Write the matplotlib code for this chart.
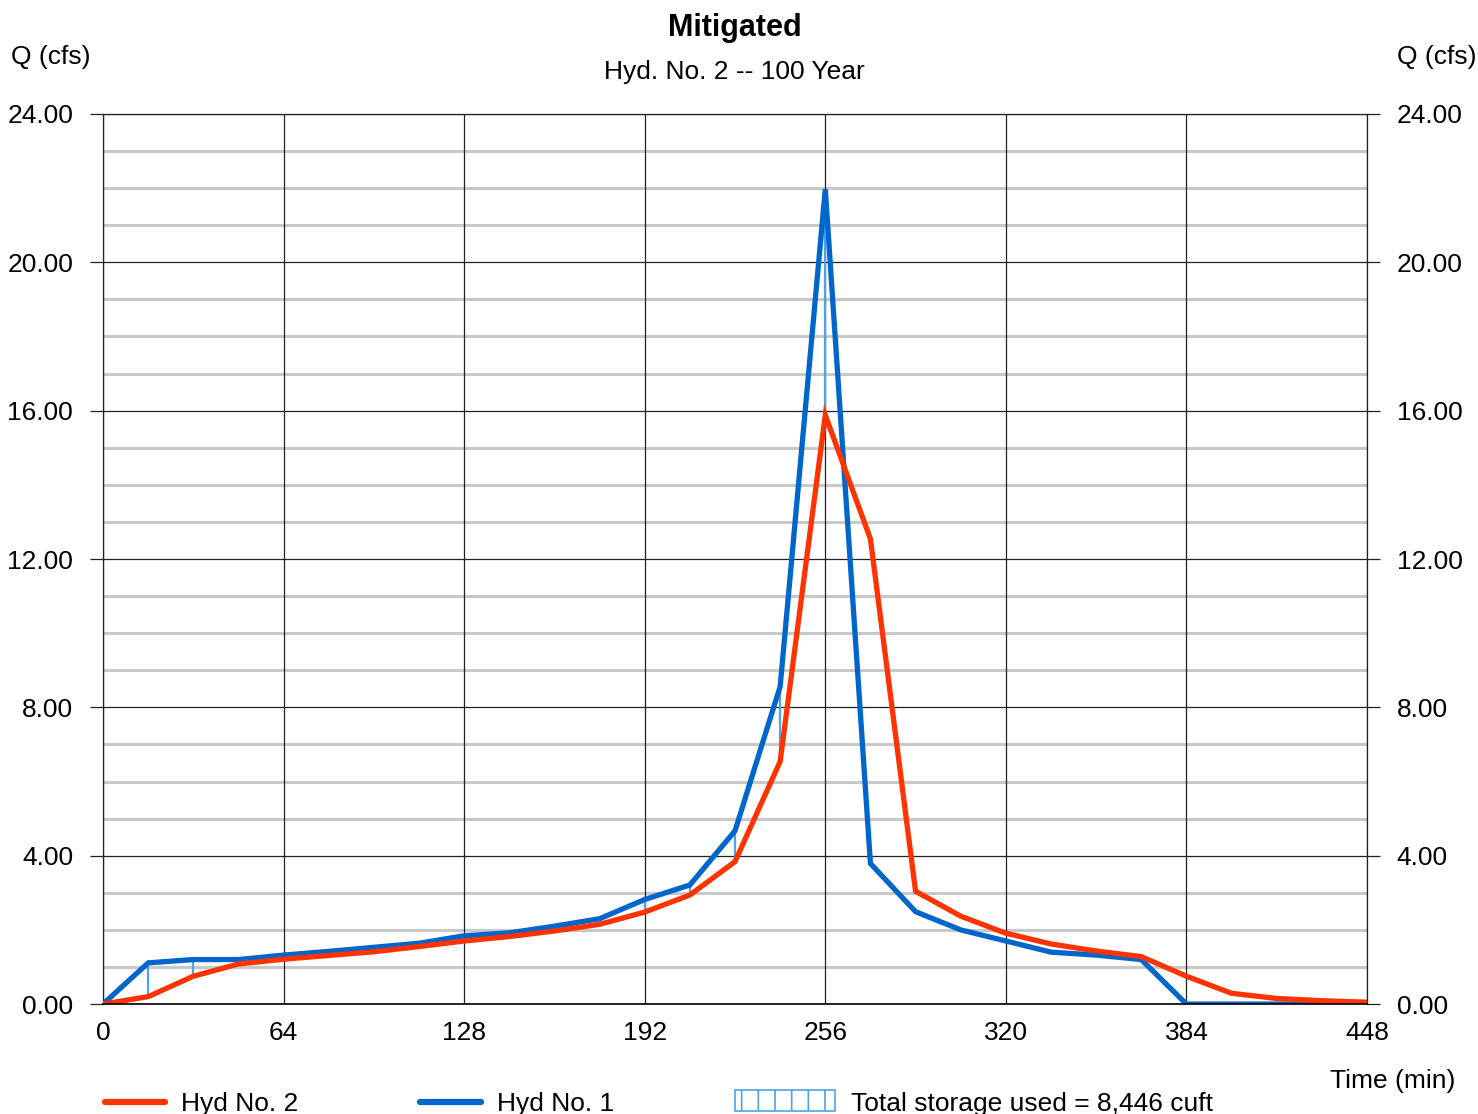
import matplotlib
matplotlib.use('Agg')
import matplotlib.pyplot as plt
from matplotlib.lines import Line2D
from matplotlib.patches import Rectangle

plt.rcParams['font.family'] = ['Liberation Sans', 'DejaVu Sans']
plt.rcParams['hatch.color'] = '#4da3e3'
plt.rcParams['hatch.linewidth'] = 1.2

# time steps (min)
time = [0, 16, 32, 48, 64, 80, 96, 112, 128, 144, 160, 176, 192, 208, 224,
        240, 256, 272, 288, 304, 320, 336, 352, 368, 384, 400, 416, 432, 448]

# Hyd No. 1 (inflow)
hyd1 = [0.00, 1.11, 1.20, 1.20, 1.32, 1.42, 1.53, 1.64, 1.84, 1.92, 2.10,
        2.30, 2.82, 3.21, 4.67, 8.56, 21.97, 3.79, 2.49, 2.00, 1.70, 1.40,
        1.32, 1.20, 0.00, 0.00, 0.00, 0.00, 0.00]

# Hyd No. 2 (outflow)
hyd2 = [0.00, 0.20, 0.75, 1.08, 1.21, 1.31, 1.41, 1.55, 1.70, 1.82, 1.97,
        2.15, 2.48, 2.94, 3.84, 6.54, 15.88, 12.54, 3.04, 2.37, 1.91, 1.62,
        1.43, 1.28, 0.75, 0.29, 0.15, 0.09, 0.05]

x_ticks = [0, 64, 128, 192, 256, 320, 384, 448]
y_ticks = [0, 4, 8, 12, 16, 20, 24]

red = '#ff3300'
blue = '#0066cc'
hatch_blue = '#4da3e3'
fs = 19

fig = plt.figure(figsize=(14.78, 11.14), dpi=100)
ax = fig.add_axes([0.0697, 0.0987, 0.8552, 0.7990])

# minor grid (light gray, every 1 cfs) and major grid (black)
for yv in range(1, 24):
    if yv % 4 != 0:
        ax.axhline(yv, color='#c8c8c8', lw=2.2, zorder=1)
for yv in y_ticks:
    ax.axhline(yv, color='#222222', lw=0.9, zorder=1.5)
for xv in x_ticks:
    ax.axvline(xv, color='#222222', lw=0.9, zorder=1.5)

# storage: vertical lines where inflow exceeds outflow, up to outflow peak
peak_i = hyd2.index(max(hyd2))
idx = [i for i in range(len(time)) if i <= peak_i and hyd1[i] > hyd2[i]]
ax.vlines([time[i] for i in idx], [hyd2[i] for i in idx], [hyd1[i] for i in idx],
          color=hatch_blue, lw=1.6, zorder=2)

ax.plot(time, hyd1, color=blue, lw=3.8, zorder=3, solid_joinstyle='miter')
ax.plot(time, hyd2, color=red, lw=3.8, zorder=4, solid_joinstyle='miter')

ax.set_xlim(0, 448)
ax.set_ylim(0, 24)
ax.set_xticks(x_ticks)
ax.set_yticks(y_ticks)
ax.set_yticklabels([f'{v:.2f}' for v in y_ticks])
ax.tick_params(axis='y', length=9.5, width=0.9, pad=12, color='#222222',
               labelsize=fs, left=True, right=True, labelleft=True, labelright=True)
ax.tick_params(axis='x', length=0, pad=12, labelsize=fs)
for s in ax.spines.values():
    s.set_linewidth(0.9)
    s.set_color('#222222')
ax.spines['bottom'].set_visible(False)
ax.axhline(0, color='black', lw=1.2, zorder=5, clip_on=False)

# titles and axis labels
fig.text(0.497, 0.975, 'Mitigated', ha='center', va='center', fontsize=22, fontweight='bold')
fig.text(0.497, 0.935, 'Hyd. No. 2 -- 100 Year', ha='center', va='center', fontsize=fs)
fig.text(0.034, 0.949, 'Q (cfs)', ha='center', va='center', fontsize=fs)
fig.text(0.972, 0.949, 'Q (cfs)', ha='center', va='center', fontsize=fs)
fig.text(0.942, 0.030, 'Time (min)', ha='center', va='center', fontsize=fs)

# legend along the bottom edge
W, H = 1478.0, 1114.0
ly = 1 - 1102 / H
fig.add_artist(Line2D([105 / W, 165 / W], [ly, ly], color=red, lw=4.5,
                      solid_capstyle='round', transform=fig.transFigure))
fig.text(181 / W, ly - 0.002, 'Hyd No. 2', ha='left', va='center', fontsize=fs)
fig.add_artist(Line2D([420 / W, 481 / W], [ly, ly], color=blue, lw=4.5,
                      solid_capstyle='round', transform=fig.transFigure))
fig.text(497 / W, ly - 0.002, 'Hyd No. 1', ha='left', va='center', fontsize=fs)
fig.add_artist(Rectangle((735 / W, 1 - 1111 / H), 100 / W, 21 / H, transform=fig.transFigure,
                         facecolor='white', edgecolor=hatch_blue, hatch='|', lw=1.2))
fig.text(851 / W, ly - 0.002, 'Total storage used = 8,446 cuft', ha='left', va='center', fontsize=fs)

fig.savefig('out.png', dpi=100)
